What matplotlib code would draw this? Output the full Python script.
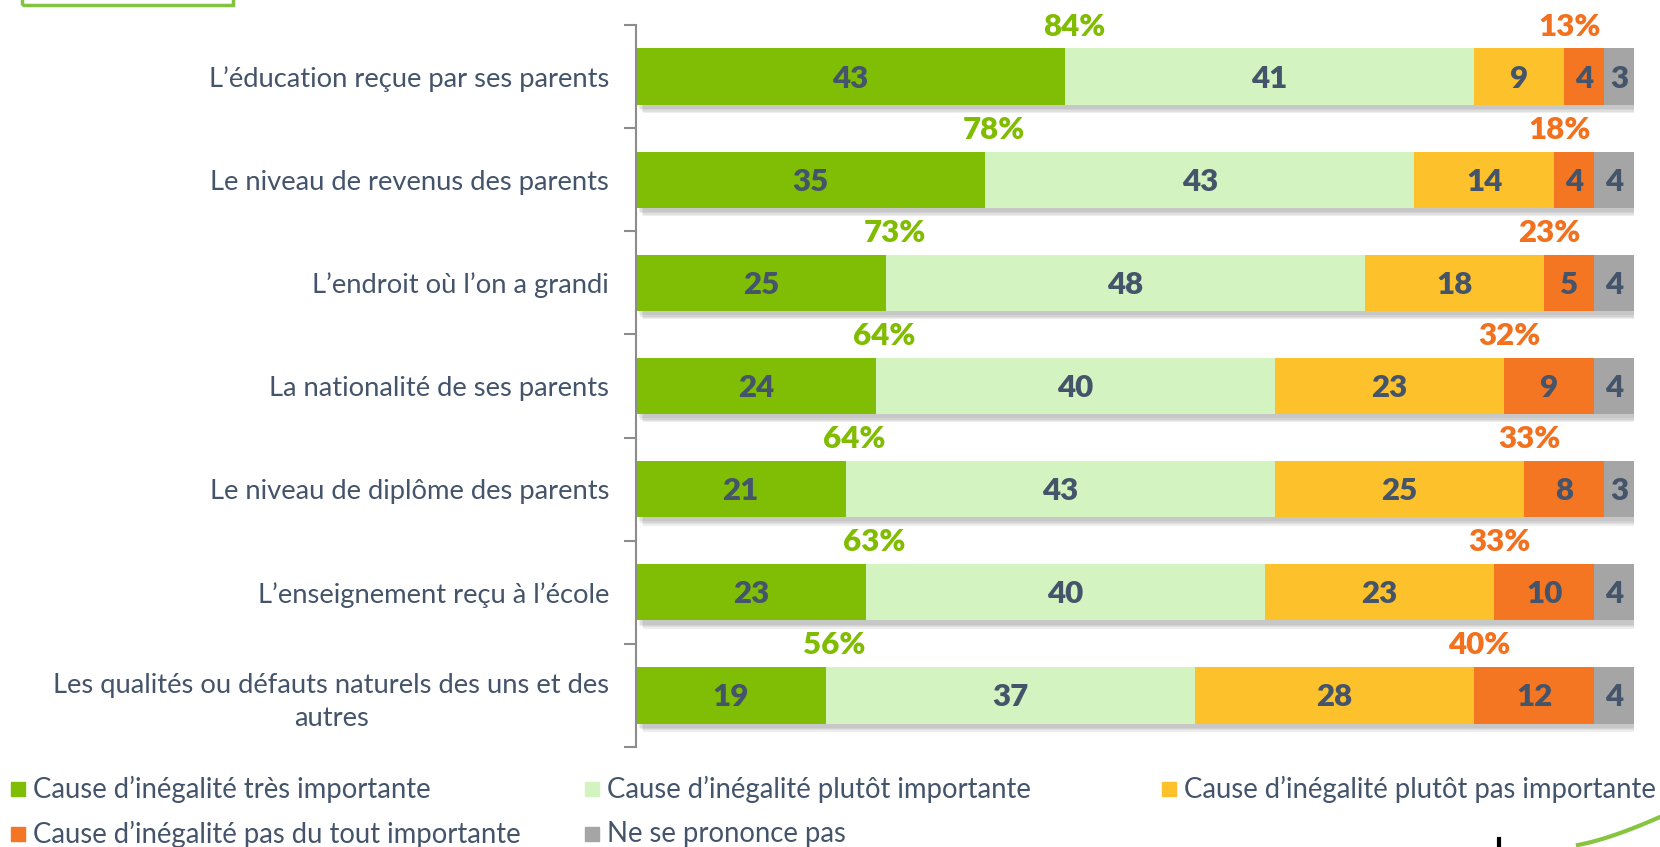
import matplotlib
matplotlib.use('Agg')
import matplotlib.pyplot as plt
from matplotlib.patches import Rectangle
from matplotlib.lines import Line2D
import matplotlib.patheffects as pe
import numpy as np

categories = [
    "L’éducation reçue par ses parents",
    "Le niveau de revenus des parents",
    "L’endroit où l’on a grandi",
    "La nationalité de ses parents",
    "Le niveau de diplôme des parents",
    "L’enseignement reçu à l’école",
    "Les qualités ou défauts naturels des uns et des\nautres",
]
tres_importante = [43, 35, 25, 24, 21, 23, 19]
plutot_importante = [41, 43, 48, 40, 43, 40, 37]
plutot_pas = [9, 14, 18, 23, 25, 23, 28]
pas_du_tout = [4, 4, 5, 9, 8, 10, 12]
nsp = [3, 4, 4, 4, 3, 4, 4]
total_important = [84, 78, 73, 64, 64, 63, 56]
total_pas = [13, 18, 23, 32, 33, 33, 40]

series_names = [
    "Cause d’inégalité très importante",
    "Cause d’inégalité plutôt importante",
    "Cause d’inégalité plutôt pas importante",
    "Cause d’inégalité pas du tout importante",
    "Ne se prononce pas",
]
colors = ['#80BE05', '#D3F4C0', '#FDC12B', '#F47522', '#A5A5A5']
text_col = '#44546A'
green_lbl = '#80BC00'
orange_lbl = '#F2711F'

plt.rcParams['font.family'] = ['Lato', 'DejaVu Sans']

W, H = 1660, 847
fig = plt.figure(figsize=(W / 100, H / 100), dpi=100)
ax = fig.add_axes([636 / W, 1 - 747 / H, 998 / W, 722 / H])

y = np.arange(len(categories))
bar_h = 0.545
series = [tres_importante, plutot_importante, plutot_pas, pas_du_tout, nsp]
totals = np.sum(series, axis=0)

# soft drop shadow behind each row
shadows = [pe.SimplePatchShadow(offset=(2 + k, -3 - k), shadow_rgbFace='#7F7F7F', alpha=0.13)
           for k in range(4)]
ax.barh(y, totals, height=bar_h, color='white', zorder=1,
        path_effects=shadows + [pe.Normal()])

left = np.zeros(len(categories))
for vals, col in zip(series, colors):
    bars = ax.barh(y, vals, left=left, height=bar_h, color=col, zorder=2)
    for b, v in zip(bars, vals):
        ax.text(b.get_x() + b.get_width() / 2, b.get_y() + b.get_height() / 2 + 0.02, str(v),
                ha='center', va='center', fontsize=22.5, fontweight='heavy', color=text_col, zorder=3)
    left += np.array(vals)

for i in range(len(categories)):
    ax.text(tres_importante[i] + 0.9, i - 0.485, f"{total_important[i]}%", ha='center', va='center',
            fontsize=22.5, fontweight='heavy', color=green_lbl)
    xo = tres_importante[i] + plutot_importante[i] + plutot_pas[i] + 0.5
    ax.text(xo, i - 0.485, f"{total_pas[i]}%", ha='center', va='center',
            fontsize=22.5, fontweight='heavy', color=orange_lbl)

ax.set_xlim(0, 100)
ax.set_ylim(len(categories) - 0.5, -0.5)
ax.set_xticks([])
ax.set_yticks(y)
ax.set_yticklabels(categories, fontsize=19.7, color=text_col, multialignment='center',
                   linespacing=1.42)
ax.tick_params(axis='y', which='major', length=0, pad=19.3)
ax.set_yticks(np.arange(-0.5, len(categories)), minor=True)
ax.tick_params(axis='y', which='minor', length=9, width=1.5, color='#8C8C8C')
for s in ['top', 'right', 'bottom']:
    ax.spines[s].set_visible(False)
ax.spines['left'].set_color('#8C8C8C')
ax.spines['left'].set_linewidth(1.5)

# legend
leg_x = [11, 585, 1162]
leg_y = [789, 834]
for i, (name, col) in enumerate(zip(series_names, colors)):
    r, c = divmod(i, 3)
    x0, y0 = leg_x[c], leg_y[r]
    fig.patches.append(Rectangle((x0 / W, 1 - (y0 + 7) / H), 14 / W, 14 / H,
                                 transform=fig.transFigure, color=col))
    fig.text((x0 + 22) / W, 1 - y0 / H, name, ha='left', va='center',
             fontsize=19.8, color=text_col)

# partial green frame at top-left
fig.patches.append(Rectangle((22 / W, 1 - 5 / H), 211 / W, 20 / H, transform=fig.transFigure,
                             fill=False, edgecolor='#82C341', linewidth=2.5))

# partial logo at bottom-right
fig.lines.append(Line2D([1499 / W, 1499 / W], [0, 8 / H], transform=fig.transFigure,
                        color='black', linewidth=3))
t = np.linspace(0, 1, 30)
lx = 1578 + 82 * t
ly = 845 - 10 * np.sin(np.pi * t * 0.5) - 18 * t ** 2
fig.lines.append(Line2D(lx / W, 1 - ly / H, transform=fig.transFigure,
                        color='#86C540', linewidth=3))

fig.savefig('out.png', dpi=100)
